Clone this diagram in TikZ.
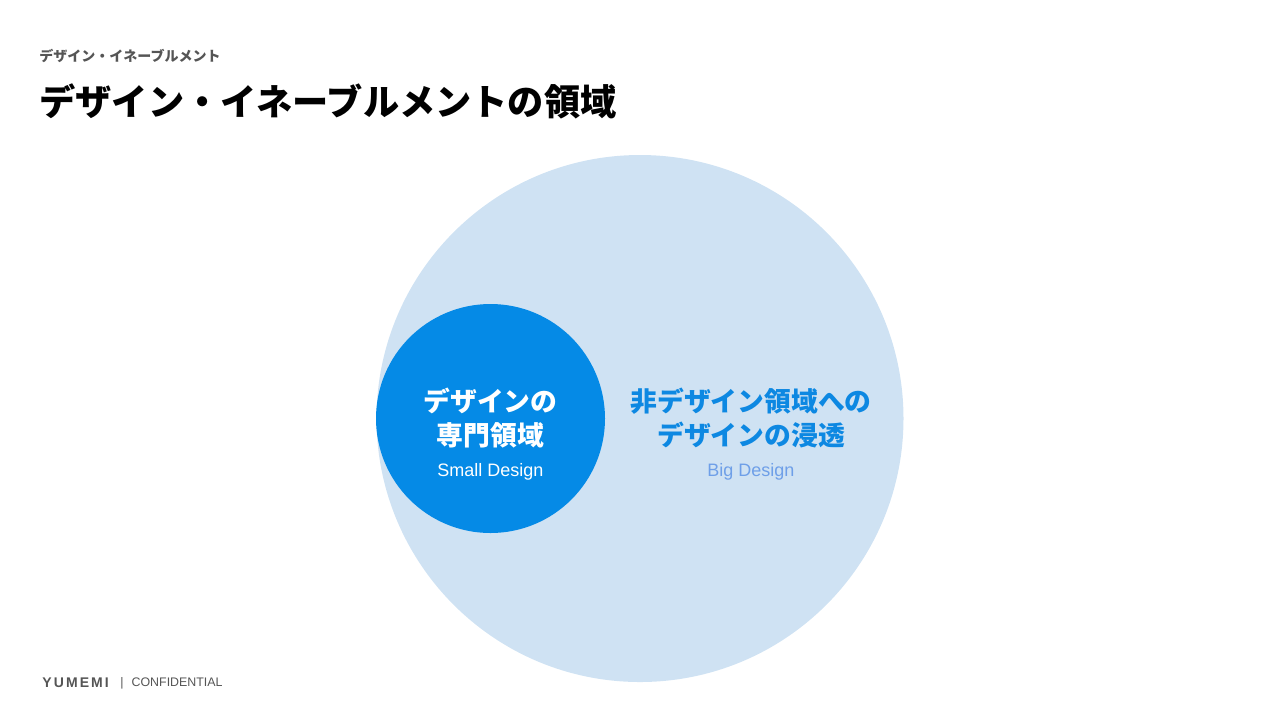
\documentclass[tikz,border=0pt]{standalone}
\usepackage{fontspec}
\setmainfont{Liberation Sans}
\newfontfamily\jp{Noto Sans CJK JP}
\usepackage{xcolor}
\usetikzlibrary{positioning}
\definecolor{bigblue}{HTML}{CFE2F3}
\definecolor{smallblue}{HTML}{058AE6}
\definecolor{textblue}{HTML}{0D88E2}
\definecolor{softblue}{HTML}{6E9FE8}
\definecolor{footgray}{HTML}{555555}

\begin{document}
\begin{tikzpicture}[x=0.5pt, y=-0.5pt,
    area/.style={circle, inner sep=0pt},
    heading/.style={anchor=west, inner sep=0pt, font=\jp\bfseries\fontsize{18.1pt}{20pt}\selectfont},
    kicker/.style={anchor=west, inner sep=0pt, text=footgray, font=\jp\bfseries\fontsize{7pt}{8pt}\selectfont},
    areatitle/.style={align=center, inner sep=0pt, font=\jp\bfseries\fontsize{13.4pt}{16.6pt}\selectfont},
    areasub/.style={inner sep=0pt, font=\fontsize{9pt}{10pt}\selectfont}]
    \useasboundingbox (0,0) rectangle (1280,720);
    % areas
    \node[area, fill=bigblue, minimum size=263.5pt] (big) at (640,418.5) {};
    \node[area, fill=smallblue, minimum size=114.5pt] (small) at (490.5,418.5) {};
    \node[areatitle, text=white] (smalltitle) at (490.5,418) {デザインの\\専門領域};
    \node[areasub, text=white] (smallsub) at (490.5,472) {Small Design};
    \node[areatitle, text=textblue] (bigtitle) at (751,418) {非デザイン領域への\\デザインの浸透};
    \node[areasub, text=softblue] (bigsub) at (751,472) {Big Design};
    % header
    \node[kicker] (kicker) at (39,56) {デザイン・イネーブルメント};
    \node[heading] (title) at (39,101) {デザイン・イネーブルメントの領域};
    % footer
    \node[anchor=west, inner sep=0pt, text=footgray, font=\bfseries\fontsize{7pt}{8pt}\selectfont\addfontfeature{LetterSpace=15}] (logo) at (42,683) {YUMEMI};
    \node[anchor=west, inner sep=0pt, text=footgray, font=\fontsize{6.2pt}{8pt}\selectfont] (conf) at (120,683) {|\hspace{4pt}CONFIDENTIAL};
\end{tikzpicture}
\end{document}
